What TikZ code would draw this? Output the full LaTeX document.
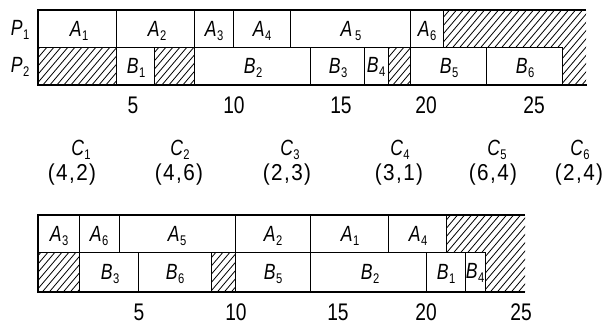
\documentclass[tikz,border=0pt]{standalone}
\usepackage{fontspec}
\newfontfamily\gost[FakeStretch=0.8]{Liberation Sans}
\newfontfamily\pairfont[LetterSpace=6,FakeStretch=0.9]{Liberation Sans}
\newcommand\lab[2]{{\itshape #1}\kern0.5pt\raisebox{-0.35ex}{\fontsize{14}{14}\selectfont #2}}
\newcommand\hatchregion[1]{\begin{scope}\clip #1; \foreach \i in {-340,-333,...,620} \draw[hatchline] (\i,330)--(\i+280,0); \end{scope}}
\tikzset{
  thickline/.style={line width=2.6pt},
  thinline/.style={line width=0.9pt},
  hatchline/.style={line width=0.8pt},
  txt/.style={font=\gost\fontsize{22}{22}\selectfont, inner sep=0pt},
  num/.style={font=\gost\fontsize{24}{24}\selectfont, inner sep=0pt},
  pair/.style={font=\pairfont\fontsize{23}{23}\selectfont, inner sep=0pt},
}
\begin{document}
\begin{tikzpicture}[x=1pt,y=-1pt]
\useasboundingbox (0,0) rectangle (611,327);
% ---------------- top chart ----------------
\hatchregion{(38,47) rectangle (116,85)}
\hatchregion{(154,47) rectangle (194,85)}
\hatchregion{(388,47) rectangle (410,85)}
\hatchregion{(443,10) -- (586,10) -- (586,85) -- (562,85) -- (562,47) -- (443,47) -- cycle}
\foreach \a/\b in {38/116,116/194,194/233,233/290,290/410,410/443}
  \draw[thinline] (\a,10) rectangle (\b,47);
\foreach \a/\b in {38/116,116/154,154/194,194/310,310/364,364/388,388/410,410/486,486/562}
  \draw[thinline] (\a,47) rectangle (\b,85);
\draw[thickline] (586,10) -- (38,10) -- (38,85) -- (587,85);
\node[txt] (p1) at (20,30) {\lab{P}{1}};
\node[txt] (p2) at (20,67) {\lab{P}{2}};
\node[txt] (ta1) at (79,31) {\lab{A}{1}};
\node[txt] (ta2) at (157,31) {\lab{A}{2}};
\node[txt] (ta3) at (214,31) {\lab{A}{3}};
\node[txt] (ta4) at (262,31) {\lab{A}{4}};
\node[txt] (ta5) at (351,31) {\lab{A}{\,5}};
\node[txt] (ta6) at (427,31) {\lab{A}{6}};
\node[txt] (tb1) at (136,68) {\lab{B}{1}};
\node[txt] (tb2) at (253,68) {\lab{B}{2}};
\node[txt] (tb3) at (338,68) {\lab{B}{3}};
\node[txt] (tb4) at (376,67) {\lab{B}{4}};
\node[txt] (tb5) at (449,68) {\lab{B}{5}};
\node[txt] (tb6) at (525,68) {\lab{B}{6}};
\node[num] (tt5) at (133,105) {5};
\node[num] (tt10) at (234,105) {10};
\node[num] (tt15) at (341,105) {15};
\node[num] (tt20) at (426,105) {20};
\node[num] (tt25) at (534,105) {25};
% ---------------- middle ----------------
\node[txt] (c1) at (81,150) {\lab{C}{1}};
\node[txt] (c2) at (180,150) {\lab{C}{2}};
\node[txt] (c3) at (290,150) {\lab{C}{3}};
\node[txt] (c4) at (400,150) {\lab{C}{4}};
\node[txt] (c5) at (497,150) {\lab{C}{5}};
\node[txt] (c6) at (580,150) {\lab{C}{6}};
\node[pair] (d1) at (72,175) {(4,2)};
\node[pair] (d2) at (179,175) {(4,6)};
\node[pair] (d3) at (287,175) {(2,3)};
\node[pair] (d4) at (399,175) {(3,1)};
\node[pair] (d5) at (493,175) {(6,4)};
\node[pair] (d6) at (579,175) {(2,4)};
% ---------------- bottom chart ----------------
\hatchregion{(38,252) rectangle (79,292)}
\hatchregion{(211,252) rectangle (235,292)}
\hatchregion{(446,215) -- (525,215) -- (525,292) -- (485,292) -- (485,252) -- (446,252) -- cycle}
\foreach \a/\b in {38/79,79/119,119/235,235/310,310/388,388/446}
  \draw[thinline] (\a,215) rectangle (\b,252);
\foreach \a/\b in {38/79,79/138,138/211,211/235,235/310,310/426,426/465,465/485}
  \draw[thinline] (\a,252) rectangle (\b,292);
\draw[thickline] (525,215) -- (38,215) -- (38,292) -- (525,292);
\node[txt] (ba3) at (59,236) {\lab{A}{3}};
\node[txt] (ba6) at (99,236) {\lab{A}{6}};
\node[txt] (ba5) at (177,236) {\lab{A}{5}};
\node[txt] (ba2) at (273,236) {\lab{A}{2}};
\node[txt] (ba1) at (350,236) {\lab{A}{1}};
\node[txt] (ba4) at (418,236) {\lab{A}{4}};
\node[txt] (bb3) at (110,274) {\lab{B}{3}};
\node[txt] (bb6) at (175,274) {\lab{B}{6}};
\node[txt] (bb5) at (273,274) {\lab{B}{5}};
\node[txt] (bb2) at (370,274) {\lab{B}{2}};
\node[txt] (bb1) at (446,274) {\lab{B}{1}};
\node[txt] (bb4) at (475,273) {\lab{B}{4}};
\node[num] (bt5) at (139,312) {5};
\node[num] (bt10) at (236,312) {10};
\node[num] (bt15) at (338,312) {15};
\node[num] (bt20) at (426,312) {20};
\node[num] (bt25) at (521,312) {25};
\end{tikzpicture}
\end{document}
